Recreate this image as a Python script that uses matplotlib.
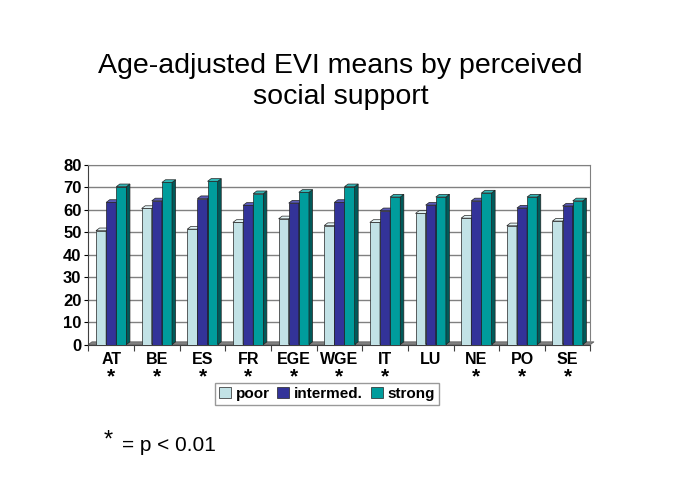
import matplotlib
matplotlib.use("Agg")
import matplotlib.pyplot as plt
from matplotlib.patches import Polygon, Patch
import numpy as np

plt.rcParams['font.family'] = ['Liberation Sans', 'DejaVu Sans']

categories = ["AT", "BE", "ES", "FR", "EGE", "WGE", "IT", "LU", "NE", "PO", "SE"]
poor = [50.7, 60.6, 51.4, 54.4, 56.0, 53.0, 54.4, 58.4, 56.3, 52.9, 55.0]
intermed = [63.3, 64.0, 65.0, 62.0, 63.0, 63.3, 59.6, 62.1, 64.0, 60.8, 61.7]
strong = [70.3, 72.2, 72.7, 67.2, 67.8, 70.3, 65.7, 65.7, 67.5, 65.7, 64.0]
significant = [True, True, True, True, True, True, True, False, True, True, True]
series_names = ["poor", "intermed.", "strong"]
yticks = [0, 10, 20, 30, 40, 50, 60, 70, 80]

face = ["#c2e2e6", "#333399", "#009c9c"]
side = ["#8db4b8", "#1e1e66", "#005a5a"]
top = ["#e2f3f5", "#5a5ab8", "#33b8b8"]

fig = plt.figure(figsize=(6.85, 4.88), dpi=100)
ax = fig.add_axes([0.129, 0.294, 0.733, 0.368])
ax.set_xlim(-0.5, len(categories) - 0.5)
ax.set_ylim(0, 80)

dx, dy = 0.078, 1.2
w = 0.222
x = np.arange(len(categories))

for yv in yticks[1:]:
    ax.axhline(yv, color="#808080", lw=1.0, zorder=0)

# floor
ax.add_patch(Polygon([(-0.5, 0), (len(categories) - 0.5, 0),
                      (len(categories) - 0.5 + dx, dy), (-0.5 + dx, dy)],
                     closed=True, facecolor="#808080", edgecolor="#555555",
                     lw=0.5, zorder=1, clip_on=False))

for s, vals in enumerate([poor, intermed, strong]):
    for i, v in enumerate(vals):
        x0 = x[i] + (s - 1.5) * w
        x1 = x0 + w
        ax.add_patch(Polygon([(x0, 0), (x1, 0), (x1, v), (x0, v)], closed=True,
                             facecolor=face[s], edgecolor="#222222", lw=0.5, zorder=3 + s))
        ax.add_patch(Polygon([(x1, 0), (x1 + dx, dy), (x1 + dx, v + dy), (x1, v)], closed=True,
                             facecolor=side[s], edgecolor="#222222", lw=0.5, zorder=3 + s))
        ax.add_patch(Polygon([(x0, v), (x1, v), (x1 + dx, v + dy), (x0 + dx, v + dy)], closed=True,
                             facecolor=top[s], edgecolor="#222222", lw=0.5, zorder=3 + s,
                             clip_on=False))

for sp in ["top", "right"]:
    ax.spines[sp].set_color("#808080")
ax.spines["left"].set_color("#404040")
ax.spines["bottom"].set_color("#404040")

ax.set_yticks(yticks)
ax.set_yticklabels([str(t) for t in yticks], fontsize=12, fontweight="bold")
ax.tick_params(axis="y", length=3, pad=2)
ax.set_xticks(np.arange(len(categories) + 1) - 0.5, minor=False)
ax.set_xticklabels([])
ax.tick_params(axis="x", length=4, color="#404040")

for i, c in enumerate(categories):
    ax.text(x[i], -3.2, c, ha="center", va="top", fontsize=11.5, fontweight="bold")
    if significant[i]:
        ax.text(x[i], -10.0, "*", ha="center", va="top", fontsize=15, fontweight="bold")

fig.text(0.497, 0.832, "Age-adjusted EVI means by perceived\nsocial support",
         ha="center", va="center", fontsize=20.5, linespacing=1.25)

handles = [Patch(facecolor=face[k], edgecolor="#222222", lw=0.5) for k in range(3)]
leg = fig.legend(handles, series_names, loc="center", bbox_to_anchor=(0.477, 0.193),
                 ncol=3, frameon=True, fancybox=False, handlelength=0.8, handleheight=0.8,
                 handletextpad=0.3, columnspacing=0.5, borderpad=0.25,
                 prop={"size": 11, "weight": "bold"})
leg.get_frame().set_edgecolor("#808080")
leg.get_frame().set_linewidth(1.0)

fig.text(0.152, 0.098, "*", fontsize=17, ha="left", va="center")
fig.text(0.178, 0.087, "= p < 0.01", fontsize=15, ha="left", va="center")

fig.savefig("out.png", dpi=100)
